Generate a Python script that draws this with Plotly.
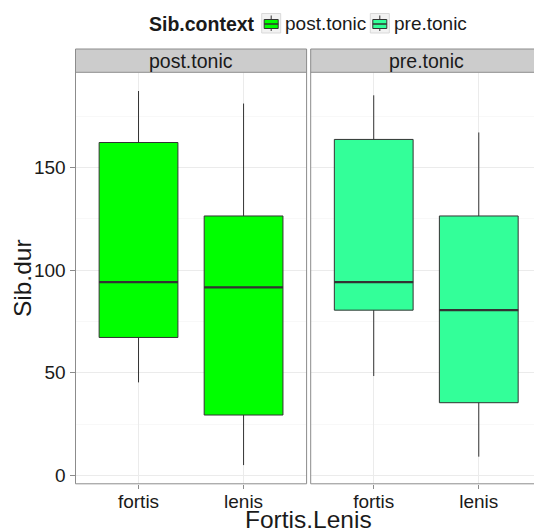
import plotly.graph_objects as go

# Facets, x categories and fill colours
contexts = ["post.tonic", "pre.tonic"]
categories = ["fortis", "lenis"]
fill_colors = ["#00FF00", "#33FF99"]

# Box summaries of Sib.dur, one list per facet, ordered as `categories`
post_lower = [45.3, 5.0]
post_q1 = [67.2, 29.4]
post_median = [94.2, 91.6]
post_q3 = [162.2, 126.4]
post_upper = [187.3, 181.2]

pre_lower = [48.4, 9.1]
pre_q1 = [80.5, 35.4]
pre_median = [94.2, 80.5]
pre_q3 = [163.7, 126.4]
pre_upper = [185.2, 167.1]

y_ticks = [0, 50, 100, 150]
y_minor = [25, 75, 125, 175]

summaries = [
    (post_lower, post_q1, post_median, post_q3, post_upper),
    (pre_lower, pre_q1, pre_median, pre_q3, pre_upper),
]

W, H = 534, 532
FONT = "Liberation Sans, Arial, sans-serif"
TXT = "#1a1a1a"
BORDER = "#8c8c8c"
GRID = "#EBEBEB"
GRID_MINOR = "#F8F8F8"
BOX_LINE = "#333333"
BOX_WIDTH = 0.75


def px_x(x):
    return x / W


def px_y(y):
    return 1 - y / H


# panel geometry (pixels)
P_TOP, P_BOT = 72.3, 483.8
STRIP_TOP = 49.0
LEFT_X0, LEFT_X1 = 75.5, 306.6
RIGHT_X0, RIGHT_X1 = 310.7, 534.0

# ggplot-like 5% expansion of the y range
all_low = min(post_lower + pre_lower)
all_high = max(post_upper + pre_upper)
pad = 0.05 * (all_high - all_low)
y_range = [all_low - pad, all_high + pad]

x_pos = list(range(len(categories)))

fig = go.Figure()

for i, (ctx, color, summ) in enumerate(zip(contexts, fill_colors, summaries)):
    lo, q1, med, q3, hi = summ
    xa = "x" if i == 0 else "x2"
    ya = "y" if i == 0 else "y2"
    fig.add_trace(go.Box(
        x=x_pos, q1=q1, median=med, q3=q3, lowerfence=lo, upperfence=hi,
        name=ctx, fillcolor=color, line=dict(color=BOX_LINE, width=1),
        width=BOX_WIDTH, whiskerwidth=0, boxpoints=False,
        xaxis=xa, yaxis=ya, showlegend=False,
    ))
    # thicker median bars
    for xp, m in zip(x_pos, med):
        fig.add_trace(go.Scatter(
            x=[xp - BOX_WIDTH / 2, xp + BOX_WIDTH / 2], y=[m, m],
            mode="lines", line=dict(color=BOX_LINE, width=2.2),
            xaxis=xa, yaxis=ya, showlegend=False, hoverinfo="skip",
        ))

left_unit = (LEFT_X1 - LEFT_X0) / 2.2
right_hi = -0.6 + (RIGHT_X1 - RIGHT_X0) / left_unit

xaxis_common = dict(
    tickmode="array", tickvals=x_pos, ticktext=categories,
    showgrid=True, gridcolor=GRID, gridwidth=1, zeroline=False,
    ticks="outside", ticklen=4, tickcolor=BORDER, tickwidth=1,
    ticklabelstandoff=-4,
    tickfont=dict(family=FONT, size=19, color=TXT),
    showline=False, automargin=False, fixedrange=True,
)
yaxis_common = dict(
    range=y_range, domain=[px_y(P_BOT), px_y(P_TOP)],
    tickmode="array", tickvals=y_ticks,
    showgrid=True, gridcolor=GRID, gridwidth=1, zeroline=False,
    minor=dict(tickmode="array", tickvals=y_minor, showgrid=True,
               gridcolor=GRID_MINOR, gridwidth=1, ticks=""),
    showline=False, automargin=False, fixedrange=True,
)

fig.update_layout(
    width=W, height=H,
    margin=dict(l=0, r=0, t=0, b=0),
    paper_bgcolor="white", plot_bgcolor="white",
    font=dict(family=FONT, size=19, color=TXT),
    xaxis=dict(domain=[px_x(LEFT_X0), px_x(LEFT_X1)], range=[-0.6, 1.6],
               anchor="y", **xaxis_common),
    xaxis2=dict(domain=[px_x(RIGHT_X0), px_x(RIGHT_X1)], range=[-0.6, right_hi],
                anchor="y2", **xaxis_common),
    yaxis=dict(anchor="x", ticks="outside", ticklen=5, tickcolor=BORDER,
               tickwidth=1, showticklabels=True,
               tickfont=dict(family=FONT, size=19, color=TXT), **yaxis_common),
    yaxis2=dict(anchor="x2", matches="y", ticks="", showticklabels=False,
                **yaxis_common),
)

shapes = []
# strip backgrounds
for xr, right_edge in (("x", True), ("x2", False)):
    shapes.append(dict(type="rect", xref=f"{xr} domain", yref="paper",
                       x0=0, x1=1, y0=px_y(P_TOP), y1=px_y(STRIP_TOP),
                       fillcolor="#CCCCCC", line=dict(width=0), layer="below"))
    # strip top / bottom borders
    for yy in (STRIP_TOP, P_TOP):
        shapes.append(dict(type="line", xref=f"{xr} domain", yref="paper",
                           x0=0, x1=1, y0=px_y(yy), y1=px_y(yy),
                           line=dict(color=BORDER, width=1)))
    # panel bottom
    shapes.append(dict(type="line", xref=f"{xr} domain", yref="paper",
                       x0=0, x1=1, y0=px_y(P_BOT), y1=px_y(P_BOT),
                       line=dict(color=BORDER, width=1)))
    # left edge (strip + panel)
    shapes.append(dict(type="line", xref=f"{xr} domain", yref="paper",
                       x0=0, x1=0, y0=px_y(P_BOT), y1=px_y(STRIP_TOP),
                       line=dict(color=BORDER, width=1)))
    if right_edge:
        shapes.append(dict(type="line", xref=f"{xr} domain", yref="paper",
                           x0=1, x1=1, y0=px_y(P_BOT), y1=px_y(STRIP_TOP),
                           line=dict(color=BORDER, width=1)))

annotations = []
# strip labels, centred on each facet's category span
for xr, ctx in (("x", contexts[0]), ("x2", contexts[1])):
    annotations.append(dict(text=ctx, xref=xr, yref="paper",
                            x=(x_pos[0] + x_pos[-1]) / 2, y=px_y((STRIP_TOP + P_TOP) / 2 + 0.5),
                            xanchor="center", yanchor="middle", showarrow=False,
                            font=dict(family=FONT, size=19.5, color=TXT)))

# axis titles
annotations.append(dict(text="Fortis.Lenis", xref="paper", yref="paper",
                        x=px_x(308.7), y=px_y(519.5), xanchor="center", yanchor="middle",
                        showarrow=False, font=dict(family=FONT, size=24.5, color=TXT)))
annotations.append(dict(text="Sib.dur", xref="paper", yref="paper",
                        x=px_x(22), y=px_y((P_TOP + P_BOT) / 2), xanchor="center",
                        yanchor="middle", textangle=-90, showarrow=False,
                        font=dict(family=FONT, size=24.5, color=TXT)))

# legend drawn at the top
LEG_Y = 23.5
annotations.append(dict(text="<b>Sib.context</b>", xref="paper", yref="paper",
                        x=px_x(257), y=px_y(LEG_Y), xanchor="right", yanchor="middle",
                        showarrow=False, font=dict(family=FONT, size=19.5, color=TXT)))
key_lefts = [261.7, 370.3]
for kx, ctx, color in zip(key_lefts, contexts, fill_colors):
    shapes.append(dict(type="rect", xref="paper", yref="paper",
                       x0=px_x(kx), x1=px_x(kx + 19), y0=px_y(33), y1=px_y(13.5),
                       fillcolor="#F2F2F2", line=dict(color="#D9D9D9", width=1)))
    cx = kx + 9.5
    shapes.append(dict(type="line", xref="paper", yref="paper",
                       x0=px_x(cx), x1=px_x(cx), y0=px_y(31), y1=px_y(15.5),
                       line=dict(color=BOX_LINE, width=1)))
    shapes.append(dict(type="rect", xref="paper", yref="paper",
                       x0=px_x(kx + 2.5), x1=px_x(kx + 16.5), y0=px_y(28.5), y1=px_y(19.5),
                       fillcolor=color, line=dict(color=BOX_LINE, width=1)))
    shapes.append(dict(type="line", xref="paper", yref="paper",
                       x0=px_x(kx + 2.5), x1=px_x(kx + 16.5), y0=px_y(24), y1=px_y(24),
                       line=dict(color=BOX_LINE, width=1.5)))
    annotations.append(dict(text=ctx, xref="paper", yref="paper",
                            x=px_x(kx + 21.5), y=px_y(LEG_Y), xanchor="left", yanchor="middle",
                            showarrow=False, font=dict(family=FONT, size=19, color=TXT)))

fig.update_layout(shapes=shapes, annotations=annotations)

fig.write_html("out.html")
